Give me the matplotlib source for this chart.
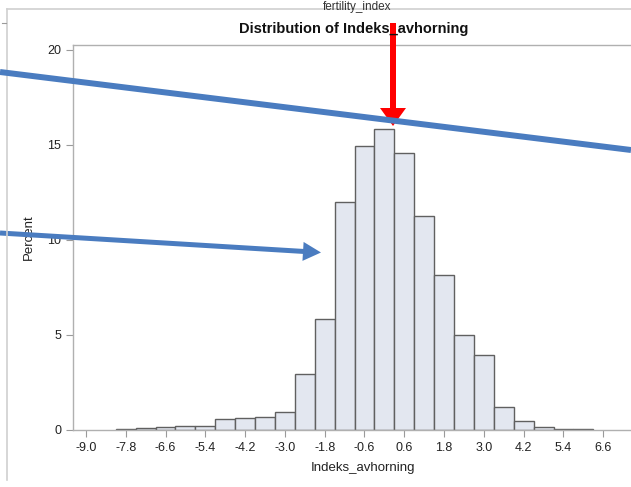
import numpy as np
import matplotlib.pyplot as plt
from matplotlib.patches import FancyArrow

plt.rcParams['font.family'] = ['Liberation Sans', 'DejaVu Sans']

# histogram bins (midpoints) and percent per bin
bin_mid = [-7.8, -7.2, -6.6, -6.0, -5.4, -4.8, -4.2, -3.6, -3.0, -2.4, -1.8, -1.2,
           -0.6, 0.0, 0.6, 1.2, 1.8, 2.4, 3.0, 3.6, 4.2, 4.8, 5.4, 6.0]
percent = [0.05, 0.08, 0.16, 0.21, 0.21, 0.58, 0.63, 0.68, 0.95, 2.95, 5.85, 12.0,
           14.95, 15.84, 14.58, 11.25, 8.18, 5.0, 3.95, 1.2, 0.47, 0.16, 0.05, 0.03]
bin_width = 0.6
xticks = [-9.0, -7.8, -6.6, -5.4, -4.2, -3.0, -1.8, -0.6, 0.6, 1.8, 3.0, 4.2, 5.4, 6.6]
yticks = [0, 5, 10, 15, 20]

W, H = 631, 487
fig = plt.figure(figsize=(W / 100, H / 100), dpi=100)

# main histogram axes (right side runs past the screenshot edge)
ax = fig.add_axes([73 / W, 57 / H, 580 / W, 385 / H])
ax.bar(bin_mid, percent, width=bin_width, color='#e3e7f0', edgecolor='#606060',
       linewidth=1.0, zorder=2)
ax.set_xlim(-9.39, 8.1)
ax.set_ylim(0, 20.26)
ax.set_xticks(xticks)
ax.set_xticklabels([f'{t:.1f}' for t in xticks])
ax.set_yticks(yticks)
for s in ax.spines.values():
    s.set_color('#b0b0b0')
    s.set_linewidth(1.0)
ax.tick_params(colors='#9a9a9a', labelcolor='#222222', labelsize=9, length=5, width=0.8)
ax.set_xlabel('Indeks_avhorning', fontsize=9.5, color='#222222', labelpad=6)
ax.set_ylabel('Percent', fontsize=9.5, color='#222222')
ax.yaxis.set_label_coords(-0.0665, 0.5)

# overlay in pixel coordinates for the screenshot frame and annotations
ov = fig.add_axes([0, 0, 1, 1], zorder=5)
ov.set_xlim(0, W)
ov.set_ylim(H, 0)
ov.axis('off')
ov.patch.set_alpha(0)

# surrounding frame of the screenshot
ov.plot([7, 7], [9, 480], color='#d0d0d0', lw=1.2)
ov.plot([7, W], [9, 9], color='#d0d0d0', lw=1.2)
ov.plot([2, 6], [23, 23], color='#9a9a9a', lw=0.8)
ov.text(357, 1, 'fertility_index', ha='center', va='top', fontsize=8.5, color='#333333')
ov.text(354, 29, 'Distribution of Indeks_avhorning', ha='center', va='center',
        fontsize=10.5, fontweight='bold', color='#111111')

# annotation arrows
blue = '#4a7cc0'
ov.plot([0, W], [72, 150], color=blue, lw=4.3, solid_capstyle='butt')
ov.add_patch(FancyArrow(0, 233, 321, 19.5, width=5, head_width=19, head_length=18,
                        length_includes_head=True, color=blue, lw=0))
ov.add_patch(FancyArrow(393, 23, 0, 103, width=6, head_width=26, head_length=18,
                        length_includes_head=True, color='#ff0000', lw=0))

fig.savefig('out.png', dpi=100)
